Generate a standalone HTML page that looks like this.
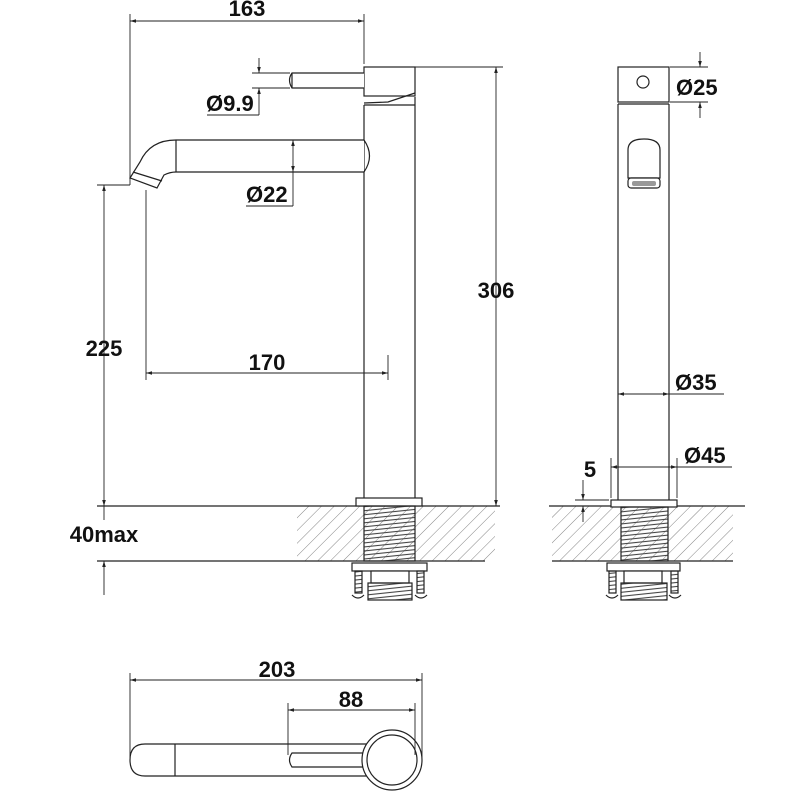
<!DOCTYPE html>
<html><head><style>
html,body{margin:0;padding:0;background:#fff;}
svg{display:block;}
text{font-family:"Liberation Sans",Arial,sans-serif;font-weight:bold;font-size:22px;fill:#111;}
</style></head><body>
<svg width="800" height="800" viewBox="0 0 800 800" xmlns="http://www.w3.org/2000/svg">
<defs>
<pattern id="h" width="9" height="9" patternUnits="userSpaceOnUse" patternTransform="rotate(45)">
<line x1="0" y1="0" x2="0" y2="9" stroke="#666" stroke-width="0.8"/>
</pattern>
<pattern id="t" width="6" height="4" patternUnits="userSpaceOnUse" patternTransform="rotate(-6)">
<line x1="0" y1="2" x2="6" y2="2" stroke="#444" stroke-width="1.1"/>
</pattern>
<marker id="a" viewBox="0 0 10 10" refX="10" refY="5" markerWidth="9" markerHeight="6" orient="auto-start-reverse" markerUnits="userSpaceOnUse">
<path d="M0,2 L10,5 L0,8 z" fill="#222"/>
</marker>
</defs>
<g fill="none" stroke="#222" stroke-width="1.2">
<rect x="297" y="506" width="198" height="55" fill="url(#h)" stroke="none"/>
<rect x="552" y="506" width="181" height="55" fill="url(#h)" stroke="none"/>
<line x1="97" y1="506" x2="500" y2="506"/>
<line x1="97" y1="561" x2="485" y2="561"/>
<line x1="549" y1="506" x2="745" y2="506"/>
<line x1="552" y1="561" x2="733" y2="561"/>

<rect x="364" y="67" width="51" height="29" fill="#fff"/>
<path d="M415,93 L388,102 L364,103" />
<line x1="364" y1="105" x2="364" y2="498"/>
<line x1="415" y1="97" x2="415" y2="498"/>
<line x1="364" y1="105" x2="415" y2="105"/>
<path d="M364,73 L292,73 Q287,80 292,88 L364,88" fill="#fff"/>
<line x1="292" y1="73" x2="292" y2="88"/>
<path d="M364,140 L176,140 Q150,140 140,162 L130,178 L157,188 L164,175 Q170,172 176,172 L364,172" fill="#fff"/>
<path d="M364,140 Q375,156 364,172"/>
<line x1="176" y1="140" x2="176" y2="172"/>
<line x1="133" y1="172" x2="162" y2="181"/>
<rect x="356" y="498" width="66" height="8" fill="#fff"/>
<rect x="364" y="506" width="51" height="55" fill="url(#t)"/>
<rect x="352" y="563" width="75" height="8" fill="#fff"/>
<rect x="355" y="571" width="7" height="22" fill="url(#t)"/>
<rect x="417" y="571" width="7" height="22" fill="url(#t)"/>
<rect x="371" y="571" width="38" height="12" fill="#fff"/>
<rect x="368" y="583" width="44" height="17" fill="url(#t)"/>
<path d="M352,595 Q358,601 364,595 M415,595 Q421,601 427,595"/>

<rect x="618" y="67" width="51" height="35" fill="#fff"/>
<circle cx="643" cy="82" r="6"/>
<line x1="618" y1="104" x2="618" y2="500"/>
<line x1="669" y1="104" x2="669" y2="500"/>
<line x1="618" y1="104" x2="669" y2="104"/>
<path d="M628,178 L628,150 Q628,139 644,139 Q660,139 660,150 L660,178 Z"/>
<rect x="628" y="178" width="32" height="10" rx="3" fill="#fff" stroke="#222"/>
<rect x="632" y="181" width="24" height="5" rx="2" fill="#999" stroke="none"/>
<rect x="611" y="500" width="66" height="7" fill="#fff"/>
<rect x="621" y="507" width="47" height="54" fill="url(#t)"/>
<rect x="607" y="563" width="73" height="8" fill="#fff"/>
<rect x="609" y="571" width="7" height="22" fill="url(#t)"/>
<rect x="671" y="571" width="7" height="22" fill="url(#t)"/>
<rect x="624" y="571" width="38" height="12" fill="#fff"/>
<rect x="621" y="583" width="46" height="17" fill="url(#t)"/>
<path d="M606,595 Q612,601 618,595 M669,595 Q675,601 681,595"/>

<path d="M392,744 L145,744 Q130,744 130,760 Q130,776 145,776 L392,776"/>
<line x1="175" y1="744" x2="175" y2="776"/>
<path d="M365,753 L292,753 Q287,760 292,767 L365,767" fill="#fff"/>
<circle cx="392" cy="760" r="30" fill="#fff"/>
<circle cx="392" cy="760" r="25"/>
</g>

<g fill="none" stroke="#222" stroke-width="0.9">
<line x1="130" y1="14" x2="130" y2="185"/>
<line x1="364" y1="14" x2="364" y2="64"/>
<line x1="130" y1="21" x2="364" y2="21" marker-start="url(#a)" marker-end="url(#a)"/>
<line x1="252" y1="73" x2="290" y2="73"/><line x1="252" y1="88" x2="290" y2="88"/>
<line x1="259" y1="58" x2="259" y2="73" marker-end="url(#a)"/>
<line x1="259" y1="115" x2="259" y2="88" marker-end="url(#a)"/>
<line x1="207" y1="115" x2="259" y2="115"/>
<line x1="293" y1="156" x2="293" y2="140" marker-end="url(#a)"/>
<line x1="293" y1="156" x2="293" y2="172" marker-end="url(#a)"/>
<line x1="293" y1="172" x2="293" y2="206"/>
<line x1="246" y1="206" x2="293" y2="206"/>
<line x1="415" y1="67" x2="503" y2="67"/>
<line x1="496" y1="67" x2="496" y2="506" marker-start="url(#a)" marker-end="url(#a)"/>
<line x1="97" y1="185" x2="130" y2="185"/>
<line x1="104" y1="185" x2="104" y2="506" marker-start="url(#a)" marker-end="url(#a)"/>
<line x1="104" y1="595" x2="104" y2="561" marker-end="url(#a)"/>
<line x1="104" y1="506" x2="104" y2="520"/>
<line x1="146" y1="190" x2="146" y2="380"/>
<line x1="388" y1="355" x2="388" y2="380"/>
<line x1="146" y1="373" x2="388" y2="373" marker-start="url(#a)" marker-end="url(#a)"/>
<line x1="670" y1="67" x2="708" y2="67"/><line x1="670" y1="102" x2="708" y2="102"/>
<line x1="700" y1="52" x2="700" y2="67" marker-end="url(#a)"/>
<line x1="700" y1="118" x2="700" y2="102" marker-end="url(#a)"/>
<line x1="618" y1="394" x2="669" y2="394" marker-start="url(#a)" marker-end="url(#a)"/>
<line x1="669" y1="394" x2="724" y2="394"/>
<line x1="611" y1="458" x2="611" y2="498"/><line x1="677" y1="458" x2="677" y2="498"/>
<line x1="611" y1="467" x2="677" y2="467" marker-start="url(#a)" marker-end="url(#a)"/>
<line x1="677" y1="467" x2="732" y2="467"/>
<line x1="575" y1="500" x2="609" y2="500"/>
<line x1="583" y1="480" x2="583" y2="500" marker-end="url(#a)"/>
<line x1="583" y1="522" x2="583" y2="506" marker-end="url(#a)"/>
<line x1="130" y1="673" x2="130" y2="760"/>
<line x1="422" y1="673" x2="422" y2="760"/>
<line x1="130" y1="680" x2="422" y2="680" marker-start="url(#a)" marker-end="url(#a)"/>
<line x1="288" y1="703" x2="288" y2="755"/>
<line x1="415" y1="703" x2="415" y2="755"/>
<line x1="288" y1="710" x2="415" y2="710" marker-start="url(#a)" marker-end="url(#a)"/>
</g>

<text x="247" y="16" text-anchor="middle">163</text>
<text x="206" y="111">Ø9.9</text>
<text x="246" y="202">Ø22</text>
<text x="496" y="298" text-anchor="middle">306</text>
<text x="104" y="356" text-anchor="middle">225</text>
<text x="267" y="370" text-anchor="middle">170</text>
<text x="104" y="542" text-anchor="middle">40max</text>
<text x="676" y="95">Ø25</text>
<text x="675" y="390">Ø35</text>
<text x="684" y="463">Ø45</text>
<text x="590" y="477" text-anchor="middle">5</text>
<text x="277" y="677" text-anchor="middle">203</text>
<text x="351" y="707" text-anchor="middle">88</text>
</svg>
</body></html>
